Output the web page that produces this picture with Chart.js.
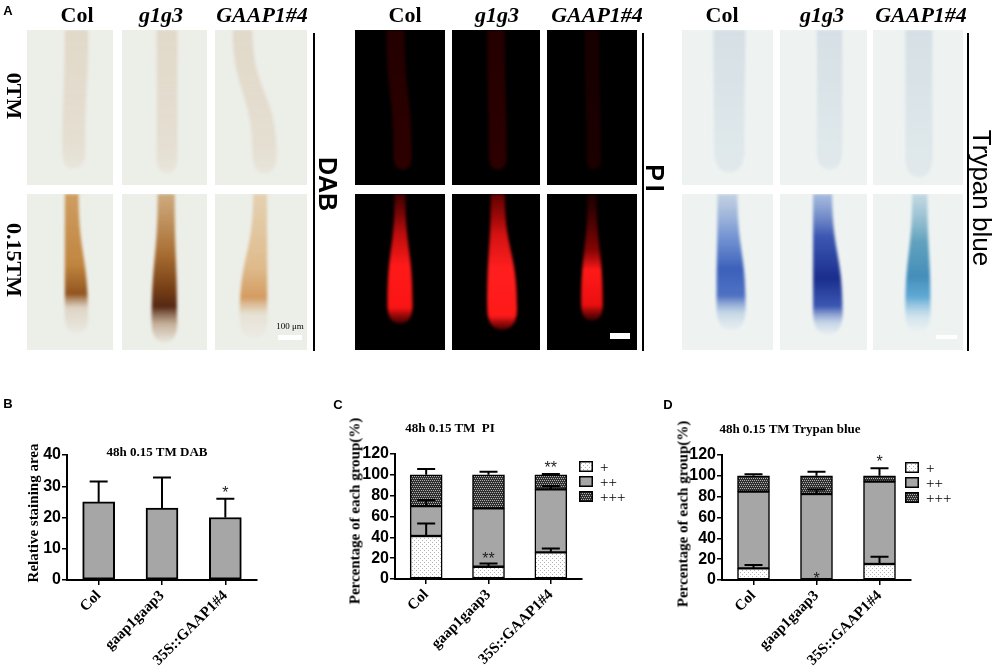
<!DOCTYPE html>
<html>
<head>
<meta charset="utf-8">
<script src="https://cdn.jsdelivr.net/npm/chart.js@4.4.1/dist/chart.umd.min.js"></script>
<style>
  body { margin: 0; width: 1000px; height: 672px; position: relative; background: #fff; overflow: hidden; }
  .t { position: absolute; white-space: nowrap; transform: translate(-50%, -50%); color: #000; line-height: 1; }
  .serif { font-family: 'Liberation Serif', 'Times New Roman', serif; font-weight: bold; }
  .sans { font-family: 'Liberation Sans', Arial, sans-serif; }
  .box { position: absolute; }
  .vline { position: absolute; width: 1.5px; background: #000; }
</style>
</head>
<body>
<canvas id="micro" width="1000" height="360" style="position:absolute;left:0;top:0"></canvas>
<div class="vline" style="left:313px;top:33px;height:318px"></div>
<div class="vline" style="left:642px;top:33px;height:318px"></div>
<div class="vline" style="left:967px;top:33px;height:318px"></div>

<div class="box" style="left:0;top:400px;width:320px;height:272px"><canvas id="chartB"></canvas></div>
<div class="box" style="left:330px;top:400px;width:330px;height:272px"><canvas id="chartC"></canvas></div>
<div class="box" style="left:660px;top:400px;width:340px;height:272px"><canvas id="chartD"></canvas></div>

<script>
// ---- data ----
const groups = ["Col", "gaap1gaap3", "35S::GAAP1#4"];
const stainLevels = ["+", "++", "+++"];

// B: relative DAB staining area
const dabArea = [25, 23, 20];
const dabSD = [6.5, 9.8, 6];
const dabTicks = [0, 10, 20, 30, 40];
const dabStars = [null, null, { text: "*", at: 29 }];

// C: PI staining classes (%)
const piPlus = [41.3, 11.8, 25.6];
const piPlusSD = [12, 3.2, 3.8];
const piTwo = [28.7, 56, 60.4];
const piTwoSD = [5.8, 0, 3.3];
const piThree = [30, 32.2, 14];
const piThreeSD = [5.6, 3, 0.8];
const piStars = [null, { text: "**", at: 23 }, { text: "**", at: 110 }];

// D: Trypan blue staining classes (%)
const tbPlus = [11.2, 0, 15.4];
const tbPlusSD = [3.2, 0, 7];
const tbTwo = [73.6, 82.6, 79];
const tbTwoSD = [0, 4.4, 0];
const tbThree = [15.2, 17.4, 5.6];
const tbThreeSD = [1.6, 4, 7.2];
const tbStars = [null, { text: "*", at: 4.5 }, { text: "*", at: 117 }];

const pctTicks = [0, 20, 40, 60, 80, 100, 120];

const SERIF = "'Liberation Serif', 'Times New Roman', serif";
const SANS = "'Liberation Sans', Arial, sans-serif";

// ---- text labels ----
function label(text, x, y, cls, css) {
  const d = document.createElement("div");
  d.className = "t " + cls;
  d.textContent = text;
  d.style.left = x + "px";
  d.style.top = y + "px";
  if (css) d.style.cssText += css;
  document.body.appendChild(d);
  return d;
}

label("A", 8, 10, "sans", "font-weight:bold;font-size:13px");
label("B", 8, 403, "sans", "font-weight:bold;font-size:13px");
label("C", 338, 404, "sans", "font-weight:bold;font-size:13px");
label("D", 668, 404, "sans", "font-weight:bold;font-size:13px");

const headerX = [[77, 161, 262], [405, 497, 597], [722, 822, 921]];
headerX.forEach(xs => {
  label("Col", xs[0], 15, "serif", "font-size:22px");
  label("g1g3", xs[1], 15, "serif", "font-size:22px;font-style:italic");
  label("GAAP1#4", xs[2], 15, "serif", "font-size:22px;font-style:italic");
});
label("0TM", 14, 96, "serif", "font-size:22px;transform:translate(-50%,-50%) rotate(90deg)");
label("0.15TM", 14, 260, "serif", "font-size:22px;transform:translate(-50%,-50%) rotate(90deg)");
label("DAB", 327, 184, "sans", "font-size:25px;font-weight:bold;transform:translate(-50%,-50%) rotate(90deg)");
label("PI", 654, 180, "sans", "font-size:25px;font-weight:bold;letter-spacing:4px;transform:translate(-50%,-50%) rotate(90deg)");
label("Trypan blue", 982, 198, "sans", "font-size:26px;transform:translate(-50%,-50%) rotate(90deg)");
label("100 μm", 290, 326, "serif", "font-size:9px;font-weight:normal");

label("48h 0.15 TM DAB", 157, 451, "serif", "font-size:13px");
label("48h 0.15 TM  PI", 450, 427, "serif", "font-size:13px;white-space:pre");
label("48h 0.15 TM Trypan blue", 790, 428, "serif", "font-size:13px");

label("Relative staining area", 33, 513, "serif", "font-size:15px;transform:translate(-50%,-50%) rotate(-90deg)");
label("Percentage of each group(%)", 355, 511, "serif", "font-size:15px;transform:translate(-50%,-50%) rotate(-90deg)");
label("Percentage of each group(%)", 683, 514, "serif", "font-size:15px;transform:translate(-50%,-50%) rotate(-90deg)");

// ---- fill patterns ----
function makePattern(bg, dot, dots) {
  const c = document.createElement("canvas");
  c.width = 4; c.height = 4;
  const g = c.getContext("2d");
  g.fillStyle = bg;
  g.fillRect(0, 0, 4, 4);
  g.fillStyle = dot;
  dots.forEach(p => g.fillRect(p[0], p[1], 1, 1));
  return g.createPattern(c, "repeat");
}
const fillPlus = makePattern("#ffffff", "#b4b4b4", [[0, 0], [2, 2]]);
const fillTwo = "#a6a6a6";
const fillThree = makePattern("#303030", "#b0b0b0", [[0, 0], [2, 0], [1, 2], [3, 2]]);
const levelFills = [fillPlus, fillTwo, fillThree];

// legends (little boxes with the same fills)
function legend(x, y) {
  stainLevels.forEach((lv, i) => {
    const c = document.createElement("canvas");
    c.width = 14; c.height = 11;
    c.style.cssText = "position:absolute;left:" + x + "px;top:" + (y + i * 15) + "px";
    const g = c.getContext("2d");
    g.fillStyle = levelFills[i];
    g.fillRect(0, 0, 14, 11);
    g.strokeStyle = "#000";
    g.lineWidth = 1.5;
    g.strokeRect(0.75, 0.75, 12.5, 9.5);
    document.body.appendChild(c);
    label(lv, x + 21, y + i * 15 + 6, "serif", "font-size:15px;font-weight:normal;transform:translate(0,-50%)");
  });
}
legend(579, 461);
legend(905, 462);

// ---- plugins ----
const errorBars = {
  id: "errorBars",
  afterDatasetsDraw(chart) {
    const ctx = chart.ctx;
    const y = chart.scales.y;
    const sets = chart.data.datasets;
    ctx.save();
    ctx.strokeStyle = "#000";
    ctx.lineWidth = 2;
    sets.forEach((ds, di) => {
      if (!ds.errors) return;
      const meta = chart.getDatasetMeta(di);
      meta.data.forEach((bar, i) => {
        const e = ds.errors[i];
        if (!e) return;
        let top = 0;
        for (let k = 0; k <= di; k++) top += sets[k].data[i];
        const yTop = y.getPixelForValue(top);
        const yErr = y.getPixelForValue(top + e);
        ctx.beginPath();
        ctx.moveTo(bar.x, yTop);
        ctx.lineTo(bar.x, yErr);
        ctx.moveTo(bar.x - 9, yErr);
        ctx.lineTo(bar.x + 9, yErr);
        ctx.stroke();
      });
    });
    ctx.restore();
  }
};

const starMarks = {
  id: "starMarks",
  afterDatasetsDraw(chart, args, opts) {
    if (!opts.marks) return;
    const ctx = chart.ctx;
    ctx.save();
    ctx.fillStyle = "#222";
    ctx.font = "16px " + SANS;
    ctx.textAlign = "center";
    ctx.textBaseline = "alphabetic";
    opts.marks.forEach((m, i) => {
      if (!m) return;
      const x = chart.scales.x.getPixelForValue(i);
      const yy = chart.scales.y.getPixelForValue(m.at);
      ctx.fillText(m.text, x, yy + 9);
    });
    ctx.restore();
  }
};

// ---- chart builder ----
function makeChart(id, datasets, ticks, yMax, stars, box) {
  return new Chart(document.getElementById(id), {
    type: "bar",
    data: { labels: groups, datasets: datasets },
    plugins: [errorBars, starMarks],
    options: {
      responsive: true,
      maintainAspectRatio: false,
      animation: false,
      events: [],
      layout: { padding: { left: 0, top: box.top, right: box.right, bottom: 0 } },
      plugins: {
        legend: { display: false },
        tooltip: { enabled: false },
        starMarks: { marks: stars }
      },
      scales: {
        x: {
          stacked: true,
          border: { display: true, color: "#000", width: 2 },
          grid: { display: true, drawOnChartArea: false, drawTicks: true, tickLength: 5, color: "#000", lineWidth: 1.5, offset: false },
          ticks: { minRotation: 45, maxRotation: 45, autoSkip: false, padding: 2, color: "#000", font: { family: SERIF, size: 15, weight: "bold" } },
          afterFit: s => { s.height = box.xh; }
        },
        y: {
          stacked: true,
          min: 0,
          max: yMax,
          border: { display: true, color: "#000", width: 2 },
          grid: { display: true, drawOnChartArea: false, drawTicks: true, tickLength: 5, color: "#000", lineWidth: 1.5 },
          ticks: { autoSkip: false, padding: 1, color: "#000", font: { family: SANS, size: 16, weight: "bold" } },
          afterBuildTicks: s => { s.ticks = ticks.map(v => ({ value: v })); },
          afterFit: s => { s.width = box.yw; }
        }
      }
    }
  });
}

function levelSet(values, errors, level) {
  return {
    label: stainLevels[level],
    data: values,
    errors: errors,
    backgroundColor: levelFills[level],
    borderColor: "#000",
    borderWidth: 1.5,
    borderSkipped: false,
    barThickness: 32
  };
}

makeChart("chartB", [{
  label: "DAB",
  data: dabArea,
  errors: dabSD,
  backgroundColor: "#a6a6a6",
  borderColor: "#000",
  borderWidth: 2,
  borderSkipped: false,
  barThickness: 32
}], dabTicks, 40, dabStars, { top: 55, right: 63, xh: 92, yw: 67 });

makeChart("chartC", [
  levelSet(piPlus, piPlusSD, 0),
  levelSet(piTwo, piTwoSD, 1),
  levelSet(piThree, piThreeSD, 2)
], pctTicks, 120, piStars, { top: 54, right: 78, xh: 93, yw: 65 });

makeChart("chartD", [
  levelSet(tbPlus, tbPlusSD, 0),
  levelSet(tbTwo, tbTwoSD, 1),
  levelSet(tbThree, tbThreeSD, 2)
], pctTicks, 120, tbStars, { top: 55, right: 89, xh: 92, yw: 62 });

// ---- panel A: stained root tips (drawn as soft shapes) ----
const micro = document.getElementById("micro").getContext("2d");

const dabBg = "#eceee8", piBg = "#000000", tbBg = "#eef3f2";
const dabFaint = [[0, "rgba(205,175,140,0.35)"], [0.7, "rgba(210,185,155,0.3)"], [1, "rgba(228,220,205,0.5)"]];
const piFaint = [[0, "rgba(70,0,0,0.5)"], [1, "rgba(90,0,0,0.5)"]];
const tbFaint = [[0, "rgba(165,185,205,0.35)"], [1, "rgba(195,210,220,0.3)"]];

const tiles = [
  // DAB
  { box: [27, 30, 86, 155], bg: dabBg, cx: 0.575, w0: 0.27, w1: 0.26, tip: 0.89, bend: -0.03, stops: dabFaint },
  { box: [122, 30, 85, 155], bg: dabBg, cx: 0.53, w0: 0.24, w1: 0.24, tip: 0.92, bend: 0, stops: dabFaint },
  { box: [215, 30, 92, 155], bg: dabBg, cx: 0.30, w0: 0.21, w1: 0.26, tip: 0.92, bend: 0.24, stops: dabFaint },
  { box: [27, 194, 86, 156], bg: dabBg, cx: 0.52, w0: 0.16, w1: 0.27, tip: 0.89, bend: 0.055,
    stops: [[0, "rgba(195,130,50,0.75)"], [0.5, "rgba(185,115,35,0.85)"], [0.72, "rgba(140,75,20,0.95)"], [0.82, "rgba(215,200,180,0.7)"], [1, "rgba(232,228,218,0.6)"]] },
  { box: [122, 194, 85, 156], bg: dabBg, cx: 0.52, w0: 0.2, w1: 0.3, tip: 0.95, bend: -0.02,
    stops: [[0, "rgba(185,125,55,0.6)"], [0.4, "rgba(160,95,30,0.9)"], [0.65, "rgba(115,60,20,1)"], [0.76, "rgba(85,40,20,1)"], [0.88, "rgba(180,150,120,0.7)"], [1, "rgba(228,222,212,0.6)"]] },
  { box: [215, 194, 92, 156], bg: dabBg, cx: 0.49, w0: 0.15, w1: 0.3, tip: 0.92, bend: -0.07,
    stops: [[0, "rgba(215,165,95,0.4)"], [0.5, "rgba(212,145,65,0.55)"], [0.72, "rgba(200,120,40,0.7)"], [0.84, "rgba(225,212,192,0.5)"], [1, "rgba(235,230,222,0.5)"]] },
  // PI
  { box: [355, 30, 90, 155], bg: piBg, cx: 0.45, w0: 0.2, w1: 0.2, tip: 0.9, bend: 0.08, stops: piFaint },
  { box: [452, 30, 88, 155], bg: piBg, cx: 0.5, w0: 0.2, w1: 0.2, tip: 0.9, bend: 0.02, stops: piFaint },
  { box: [547, 30, 90, 155], bg: piBg, cx: 0.5, w0: 0.16, w1: 0.16, tip: 0.9, bend: 0.02, stops: [[0, "rgba(45,0,0,0.5)"], [1, "rgba(55,0,0,0.5)"]] },
  { box: [355, 194, 90, 156], bg: piBg, cx: 0.5, w0: 0.12, w1: 0.28, tip: 0.83, bend: 0,
    stops: [[0, "rgba(110,0,0,0.6)"], [0.3, "rgba(220,15,15,0.85)"], [0.55, "rgba(255,25,25,1)"], [0.88, "rgba(250,20,20,1)"], [1, "rgba(120,0,0,0.6)"]] },
  { box: [452, 194, 88, 156], bg: piBg, cx: 0.52, w0: 0.16, w1: 0.34, tip: 0.87, bend: 0.05,
    stops: [[0, "rgba(140,0,0,0.7)"], [0.3, "rgba(235,20,20,0.9)"], [0.55, "rgba(255,30,30,1)"], [0.9, "rgba(255,25,25,1)"], [1, "rgba(130,0,0,0.6)"]] },
  { box: [547, 194, 90, 156], bg: piBg, cx: 0.5, w0: 0.1, w1: 0.24, tip: 0.81, bend: 0,
    stops: [[0, "rgba(60,0,0,0.5)"], [0.45, "rgba(170,5,5,0.8)"], [0.6, "rgba(255,25,25,1)"], [0.88, "rgba(235,15,15,1)"], [1, "rgba(100,0,0,0.6)"]] },
  // Trypan blue
  { box: [682, 30, 91, 155], bg: tbBg, cx: 0.52, w0: 0.35, w1: 0.33, tip: 0.92, bend: 0, stops: tbFaint },
  { box: [780, 30, 87, 155], bg: tbBg, cx: 0.57, w0: 0.29, w1: 0.29, tip: 0.9, bend: 0, stops: tbFaint },
  { box: [873, 30, 90, 155], bg: tbBg, cx: 0.51, w0: 0.3, w1: 0.3, tip: 0.95, bend: 0, stops: tbFaint },
  { box: [682, 194, 91, 156], bg: tbBg, cx: 0.5, w0: 0.22, w1: 0.32, tip: 0.87, bend: 0.04,
    stops: [[0, "rgba(150,175,210,0.5)"], [0.3, "rgba(80,120,200,0.75)"], [0.55, "rgba(40,80,180,0.9)"], [0.75, "rgba(50,90,185,0.85)"], [0.88, "rgba(160,190,220,0.5)"], [1, "rgba(220,230,235,0.4)"]] },
  { box: [780, 194, 87, 156], bg: tbBg, cx: 0.49, w0: 0.22, w1: 0.34, tip: 0.9, bend: 0.06,
    stops: [[0, "rgba(120,150,210,0.6)"], [0.3, "rgba(40,70,170,0.9)"], [0.6, "rgba(25,45,140,1)"], [0.8, "rgba(40,70,170,0.9)"], [0.92, "rgba(160,185,220,0.5)"], [1, "rgba(220,230,235,0.4)"]] },
  { box: [873, 194, 90, 156], bg: tbBg, cx: 0.52, w0: 0.17, w1: 0.28, tip: 0.88, bend: -0.02,
    stops: [[0, "rgba(150,190,210,0.5)"], [0.35, "rgba(60,140,175,0.8)"], [0.6, "rgba(50,130,180,0.9)"], [0.75, "rgba(60,150,205,0.8)"], [0.9, "rgba(185,215,235,0.5)"], [1, "rgba(225,235,240,0.4)"]] }
];

function rootPath(g, t) {
  const [bx0, by0, bw, bh] = t.box;
  const x0 = bx0 + t.cx * bw;
  const xb = x0 + t.bend * bw;
  const tipY = by0 + t.tip * bh;
  const hw0 = t.w0 * bw / 2, hw1 = t.w1 * bw / 2;
  const shoulder = tipY - hw1 * 1.5;
  const mid = by0 + (shoulder - by0) * 0.5;
  g.beginPath();
  g.moveTo(x0 - hw0, by0);
  g.bezierCurveTo(x0 - hw0, mid, xb - hw1, mid, xb - hw1, shoulder);
  g.quadraticCurveTo(xb - hw1, tipY, xb, tipY);
  g.quadraticCurveTo(xb + hw1, tipY, xb + hw1, shoulder);
  g.bezierCurveTo(xb + hw1, mid, x0 + hw0, mid, x0 + hw0, by0);
  g.closePath();
}

tiles.forEach(t => {
  const [x, y, w, h] = t.box;
  micro.fillStyle = t.bg;
  micro.fillRect(x, y, w, h);
  const grad = micro.createLinearGradient(0, y, 0, y + t.tip * h);
  t.stops.forEach(s => grad.addColorStop(s[0], s[1]));
  micro.save();
  micro.beginPath();
  micro.rect(x, y, w, h);
  micro.clip();
  micro.filter = "blur(1.5px)";
  rootPath(micro, t);
  micro.fillStyle = grad;
  micro.fill();
  micro.restore();
});

// scale bars
micro.fillStyle = "#ffffff";
micro.fillRect(278, 335, 24, 5);
micro.fillRect(610, 333, 20, 6);
micro.fillStyle = "rgba(255,255,255,0.85)";
micro.fillRect(936, 335, 21, 4);
</script>
</body>
</html>
